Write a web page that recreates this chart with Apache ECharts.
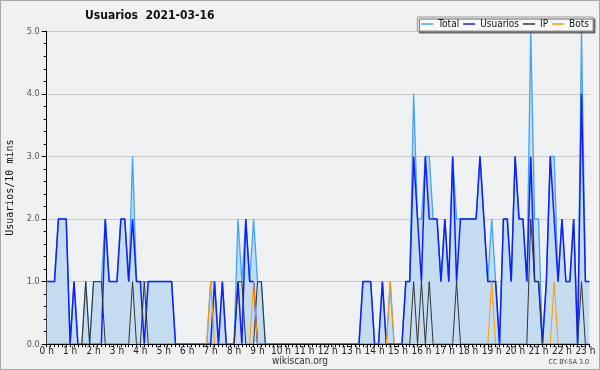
<!DOCTYPE html>
<html><head><meta charset="utf-8">
<script src="https://cdn.jsdelivr.net/npm/echarts@6/dist/echarts.min.js"></script>
<style>html,body{margin:0;padding:0;background:#f0f0f0}#c{width:600px;height:370px}</style>
</head><body><div id="c"></div>
<script>
const hourLabels = ['0 h','1 h','2 h','3 h','4 h','5 h','6 h','7 h','8 h','9 h','10 h','11 h','12 h','13 h','14 h','15 h','16 h','17 h','18 h','19 h','20 h','21 h','22 h','23 h'];
const yTicks = ['0.0','1.0','2.0','3.0','4.0','5.0'];
const total = [
 1,1,1,2,2,2,0,1,0,0,
 1,0,1,1,1,2,1,1,1,2,
 2,1,3,1,1,1,1,1,1,1,
 1,1,1,0,0,0,0,0,0,0,
 0,0,1,1,0,1,0,0,0,2,
 1,2,1,2,1,1,0,0,0,0,
 0,0,0,0,0,0,0,0,0,0,
 0,0,0,0,0,0,0,0,0,0,
 0,1,1,1,0,0,1,0,1,0,
 0,0,1,1,4,2,2,3,3,2,
 2,1,2,1,3,2,2,2,2,2,
 2,3,2,1,2,1,0,2,2,1,
 3,2,2,1,5,2,2,0,1,3,
 3,1,2,1,1,2,0,5,1,1];
const usuarios = [
 1,1,1,2,2,2,0,1,0,0,
 0,0,0,0,0,2,1,1,1,2,
 2,1,2,1,1,0,1,1,1,1,
 1,1,1,0,0,0,0,0,0,0,
 0,0,0,1,0,1,0,0,0,1,
 0,2,1,1,0,0,0,0,0,0,
 0,0,0,0,0,0,0,0,0,0,
 0,0,0,0,0,0,0,0,0,0,
 0,1,1,1,0,0,1,0,0,0,
 0,0,1,1,3,2,1,3,2,2,
 2,1,2,1,3,1,2,2,2,2,
 2,3,2,1,1,1,0,2,2,1,
 3,2,2,1,3,1,1,0,1,3,
 2,1,2,1,1,2,0,4,1,1];
const ip = [
 0,0,0,0,0,0,0,0,0,0,
 1,0,1,1,1,0,0,0,0,0,
 0,0,1,0,0,1,0,0,0,0,
 0,0,0,0,0,0,0,0,0,0,
 0,0,0,0,0,0,0,0,0,1,
 1,0,0,0,1,1,0,0,0,0,
 0,0,0,0,0,0,0,0,0,0,
 0,0,0,0,0,0,0,0,0,0,
 0,0,0,0,0,0,0,0,0,0,
 0,0,0,0,1,0,1,0,1,0,
 0,0,0,0,0,1,0,0,0,0,
 0,0,0,0,0,0,0,0,0,0,
 0,0,0,0,2,1,1,0,0,0,
 0,0,0,0,0,0,0,1,0,0];
const bots = [
 0,0,0,0,0,0,0,0,0,0,
 0,0,0,0,0,0,0,0,0,0,
 0,0,0,0,0,0,0,0,0,0,
 0,0,0,0,0,0,0,0,0,0,
 0,0,1,0,0,0,0,0,0,0,
 0,0,0,1,0,0,0,0,0,0,
 0,0,0,0,0,0,0,0,0,0,
 0,0,0,0,0,0,0,0,0,0,
 0,0,0,0,0,0,0,0,1,0,
 0,0,0,0,0,0,0,0,0,0,
 0,0,0,0,0,0,0,0,0,0,
 0,0,0,0,1,0,0,0,0,0,
 0,0,0,0,0,0,0,0,0,0,
 1,0,0,0,0,0,0,0,0,0];
const categories = total.map((_, i) => {
  const m = i * 10;
  return String(Math.floor(m / 60)).padStart(2, '0') + ':' + String(m % 60).padStart(2, '0');
});

const chart = echarts.init(document.getElementById('c'), null, {renderer: 'canvas'});
const sansC = "'DejaVu Sans Condensed','DejaVu Sans',sans-serif";
function lineSeries(name, data, color, width, z, area) {
  const s = {
    name, type: 'line', data, symbol: 'none', z,
    lineStyle: {color, width}, itemStyle: {color},
    emphasis: {disabled: true}
  };
  if (area) s.areaStyle = {color: area, opacity: 1};
  return s;
}
chart.setOption({
  animation: false,
  backgroundColor: '#f0f0f0',
  title: {
    text: 'Usuarios  2021-03-16', left: 85, top: 10, padding: 0,
    textStyle: {fontFamily: sansC, fontSize: 12, fontWeight: 'bold', color: '#111'}
  },
  legend: {
    right: 7, top: 17, padding: [1, 4], itemGap: 4, itemWidth: 12, itemHeight: 1.5,
    icon: 'rect', backgroundColor: '#f8f8f8', borderColor: '#999', borderWidth: 1,
    shadowColor: '#666', shadowOffsetX: 2, shadowOffsetY: 2, shadowBlur: 0,
    textStyle: {fontFamily: sansC, fontSize: 10, color: '#111', lineHeight: 12},
    data: ['Total', 'Usuarios', 'IP', 'Bots']
  },
  grid: {left: 46.7, right: 10.7, top: 31.2, bottom: 25.8, show: true, backgroundColor: '#eef0f2', borderWidth: 0,
         containLabel: false, outerBoundsMode: 'none'},
  xAxis: {
    type: 'category', data: categories, boundaryGap: false, z: 10,
    axisLine: {lineStyle: {color: '#000', width: 1}},
    axisTick: {show: true, interval: 0, length: 3, lineStyle: {color: '#000'}},
    axisLabel: {
      interval: (i) => i % 6 === 0,
      formatter: (v, i) => hourLabels[i / 6],
      fontFamily: sansC, fontSize: 10, color: '#222', margin: 2
    },
    splitLine: {show: false}
  },
  yAxis: {
    type: 'value', min: 0, max: 5, interval: 1,
    name: 'Usuarios/10 mins', nameLocation: 'middle', nameGap: 31, nameRotate: 90,
    nameTextStyle: {fontFamily: "'DejaVu Sans Mono',monospace", fontSize: 10, color: '#111'},
    axisLine: {show: true, lineStyle: {color: '#000', width: 1}},
    axisTick: {show: true, length: 5, lineStyle: {color: '#000'}},
    minorTick: {show: true, splitNumber: 5, length: 3, lineStyle: {color: '#000'}},
    axisLabel: {formatter: (v) => yTicks[Math.round(v)], fontFamily: sansC, fontSize: 9, color: '#555', margin: 7},
    splitLine: {show: true, lineStyle: {color: '#cbcbcb', width: 1}}
  },
  series: [
    lineSeries('Total', total, '#45a3f2', 1.3, 1, '#c4dcf0'),
    lineSeries('Usuarios', usuarios, '#1020f5', 1.5, 2),
    lineSeries('IP', ip, '#333333', 1, 3),
    lineSeries('Bots', bots, '#ff9a00', 1, 4)
  ],
  graphic: [
    {type: 'rect', shape: {x: 0.5, y: 0.5, width: 599, height: 369}, style: {fill: 'none', stroke: '#a8a8a8', lineWidth: 1}, silent: true, z: 100},
    {type: 'text', left: 'center', top: 356, style: {text: 'wikiscan.org', fontFamily: sansC, fontSize: 10, fill: '#333'}},
    {type: 'text', right: 11, top: 359, style: {text: 'CC BY-SA 3.0', fontFamily: sansC, fontSize: 7, fill: '#444'}}
  ]
});
</script></body></html>
